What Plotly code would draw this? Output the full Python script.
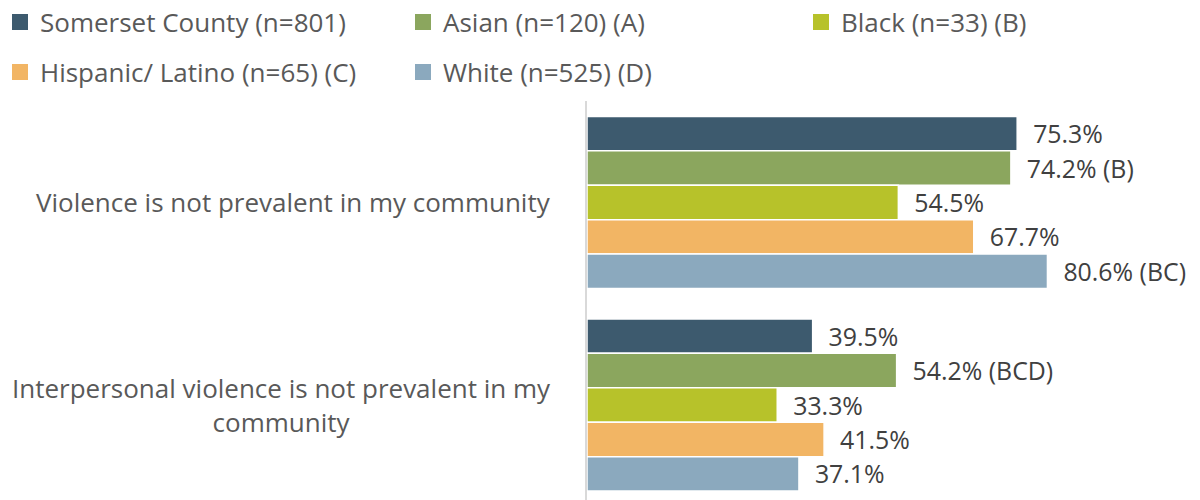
import plotly.graph_objects as go

categories = ["Violence is not prevalent in my community",
              "Interpersonal violence is not prevalent in my<br>community"]
series = ["Somerset County (n=801)", "Asian (n=120) (A)", "Black (n=33) (B)",
          "Hispanic/ Latino (n=65) (C)", "White (n=525) (D)"]
values = [[75.3, 39.5], [74.2, 54.2], [54.5, 33.3], [67.7, 41.5], [80.6, 37.1]]
labels = [["75.3%", "39.5%"], ["74.2% (B)", "54.2% (BCD)"], ["54.5%", "33.3%"],
          ["67.7%", "41.5%"], ["80.6% (BC)", "37.1%"]]
colors = ["#3D5A6E", "#8BA65E", "#B7C22A", "#F2B564", "#8BA9BE"]

# legend slot of each series: (left px, row center px)
legend_slots = [(14, 22), (417, 22), (815, 22), (14, 72), (417, 72)]

FONT = "Open Sans"
FS = 26
ypos = list(range(len(categories)))

fig = go.Figure()

for i, s in enumerate(series):
    fig.add_trace(go.Bar(
        y=ypos, x=values[i], orientation="h", name=s,
        marker=dict(color=colors[i], line=dict(color="white", width=1.5)),
        text=labels[i], texttemplate="\u00a0\u00a0%{text}", textposition="outside",
        textfont=dict(family=FONT, size=FS, color="#404040"),
        cliponaxis=False, showlegend=False,
    ))
    lname = "legend" if i == 0 else "legend%d" % (i + 1)
    fig.add_trace(go.Scatter(
        x=[None], y=[None], mode="markers", name=s,
        marker=dict(symbol="square", size=17, color=colors[i]),
        legend=lname,
    ))
    lx, ly = legend_slots[i]
    fig.update_layout({lname: dict(
        xref="container", yref="container", x=max(lx - 14, 0) / 1200,
        y=1 - ly / 500, xanchor="left", yanchor="middle", itemwidth=30,
        font=dict(family=FONT, size=FS, color="#595959"),
        bgcolor="rgba(0,0,0,0)")})

for j, c in enumerate(categories):
    fig.add_annotation(
        x=0, xref="paper", y=j, yref="y", text=c, showarrow=False,
        xanchor="right", xshift=-34, align="center",
        font=dict(family=FONT, size=FS, color="#595959"),
    )

fig.update_layout(
    width=1200, height=500,
    margin=dict(l=587, r=0, t=101, b=0, autoexpand=False),
    barmode="group", bargap=0.15, bargroupgap=0,
    plot_bgcolor="white", paper_bgcolor="white",
    xaxis=dict(range=[0, 107.3], visible=False),
    yaxis=dict(range=[1.469, -0.501], showticklabels=False, showgrid=False,
               zeroline=False, showline=True, linecolor="#D9D9D9", linewidth=1.5,
               ticks=""),
    font=dict(family=FONT),
)

fig.write_html("out.html", config={"displayModeBar": False},
               post_script="document.body.style.margin='0';")
